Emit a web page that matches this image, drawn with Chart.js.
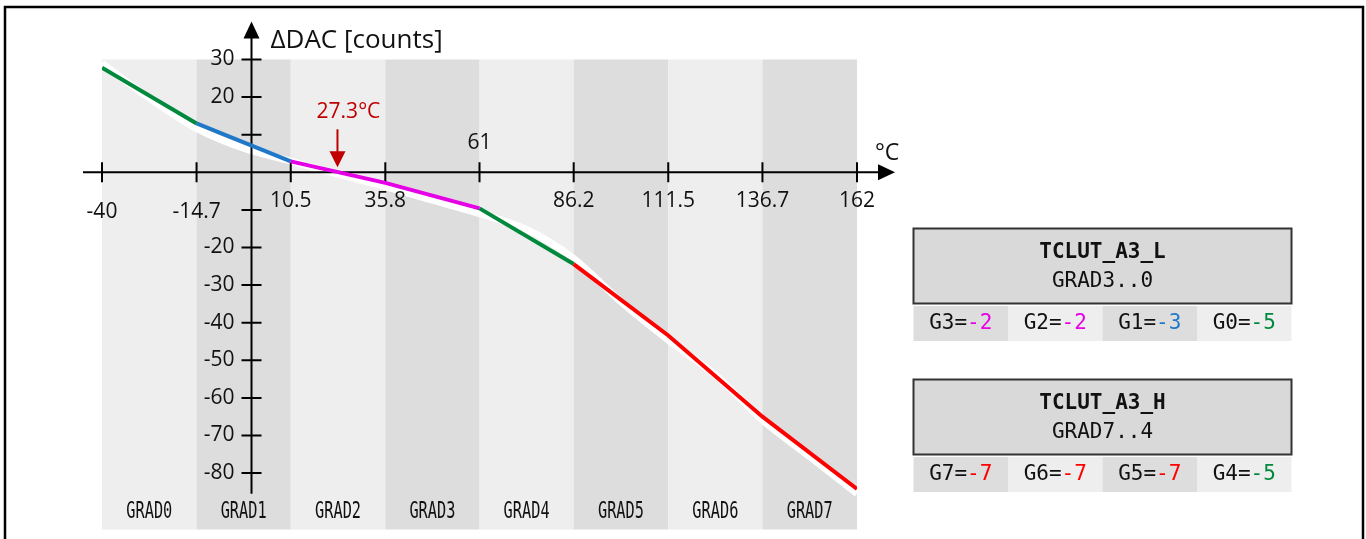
<!DOCTYPE html>
<html>
<head>
<meta charset="utf-8">
<script src="https://cdn.jsdelivr.net/npm/chart.js@4.4.1/dist/chart.umd.min.js"></script>
<style>
  html, body { margin: 0; padding: 0; background: #fff; overflow: hidden; }
  #wrap { position: relative; width: 1366px; height: 539px; }
</style>
</head>
<body>
<div id="wrap"><canvas id="c"></canvas></div>
<script>
const TEMPS  = [-40, -14.7, 10.5, 35.8, 61, 86.2, 111.5, 136.7, 162];   // bornes des GRADn (°C)
const DAC    = [27.8, 13.0, 2.9, -2.8, -9.6, -24.4, -43.4, -65.0, -84.2]; // ΔDAC aux bornes
const GRAD_NAMES = ['GRAD0', 'GRAD1', 'GRAD2', 'GRAD3', 'GRAD4', 'GRAD5', 'GRAD6', 'GRAD7'];
const GRADS      = [-5, -3, -2, -2, -5, -7, -7, -7];
const GRAD_COLORS = ['#00893d', '#1f78c8', '#e600e6', '#e600e6', '#00893d', '#ff0000', '#ff0000', '#ff0000'];

// courbe "réelle" (trait blanc sous la courbe linéarisée)
const IDEAL_T = [-40, -27.3, -14.7, -2.1, 10.5, 23.1, 35.8, 48.4, 61, 73.6, 86.2, 98.8, 111.5, 124.1, 136.7, 149.3, 162];
const IDEAL   = [29.0, 19.7, 11.7, 6.4, 3.0, -0.5, -3.8, -7.4, -11.0, -15.2, -22.9, -34.4, -44.6, -53.9, -65.9, -75.6, -85.4];

const Y_TICKS  = [30, 20, 10, -10, -20, -30, -40, -50, -60, -70, -80];
const Y_LABELS = [30, 20, -20, -30, -40, -50, -60, -70, -80];
const X_LABELS = ['-40', '-14.7', '10.5', '35.8', '61', '86.2', '111.5', '136.7', '162'];

const CROSS_T = 23, CROSS_LABEL = '27.3°C';
const Y_TITLE = 'ΔDAC [counts]', X_UNIT = '°C';
const LUTS = [
  { name: 'TCLUT_A3_L', sub: 'GRAD3..0', idx: [3, 2, 1, 0] },
  { name: 'TCLUT_A3_H', sub: 'GRAD7..4', idx: [7, 6, 5, 4] },
];

const SANS = '"Open Sans", "Noto Sans", sans-serif';
const MONO = '"DejaVu Sans Mono", monospace';
const bandColor = i => i % 2 ? '#dddddd' : '#eeeeee';

function arrowHead(ctx, tx, ty, dir) {
  ctx.beginPath();
  if (dir === 'up') { ctx.moveTo(tx, ty); ctx.lineTo(tx - 8, ty + 17); ctx.lineTo(tx + 8, ty + 17); }
  else if (dir === 'down') { ctx.moveTo(tx, ty); ctx.lineTo(tx - 8, ty - 16); ctx.lineTo(tx + 8, ty - 16); }
  else { ctx.moveTo(tx, ty); ctx.lineTo(tx - 17, ty - 8); ctx.lineTo(tx - 17, ty + 8); }
  ctx.closePath();
  ctx.fill();
}

const sketch = {
  id: 'sketch',
  beforeDatasetsDraw(chart) {
    const { ctx, chartArea: a, scales: { x } } = chart;
    ctx.save();
    ctx.strokeStyle = '#000'; ctx.lineWidth = 2.5;
    ctx.strokeRect(5, 7, 1358, 600);
    for (let i = 0; i < GRADS.length; i++) {
      const x0 = x.getPixelForValue(TEMPS[i]), x1 = x.getPixelForValue(TEMPS[i + 1]);
      ctx.fillStyle = bandColor(i);
      ctx.fillRect(x0, a.top, x1 - x0, a.bottom - a.top);
    }
    ctx.restore();
  },
  beforeDatasetDraw(chart, args) {
    if (args.index !== 0) return;
    const { ctx, chartArea: a, scales: { x, y } } = chart;
    const ox = x.getPixelForValue(0), oy = y.getPixelForValue(0);
    ctx.save();
    ctx.strokeStyle = '#000'; ctx.fillStyle = '#000'; ctx.lineWidth = 2;
    // axes
    ctx.beginPath();
    ctx.moveTo(a.left - 19, oy); ctx.lineTo(a.right + 25, oy);
    ctx.moveTo(ox, y.getPixelForValue(-85.5)); ctx.lineTo(ox, a.top - 25);
    ctx.stroke();
    arrowHead(ctx, a.right + 38, oy, 'right');
    arrowHead(ctx, ox, a.top - 38, 'up');
    // graduations
    ctx.beginPath();
    TEMPS.forEach(t => { const px = x.getPixelForValue(t); ctx.moveTo(px, oy - 10); ctx.lineTo(px, oy + 10); });
    Y_TICKS.forEach(v => { const py = y.getPixelForValue(v); ctx.moveTo(ox - 10, py); ctx.lineTo(ox + 10, py); });
    ctx.stroke();
    // libellés
    ctx.fillStyle = '#111';
    ctx.font = '21px ' + SANS;
    ctx.textAlign = 'center'; ctx.textBaseline = 'middle';
    TEMPS.forEach((t, i) => {
      const dy = t === 61 ? -29 : t < 0 ? 40 : 29;
      ctx.fillText(X_LABELS[i], x.getPixelForValue(t), oy + dy);
    });
    ctx.textAlign = 'right';
    Y_LABELS.forEach(v => ctx.fillText(String(v), ox - 17, y.getPixelForValue(v)));
    ctx.textAlign = 'left';
    ctx.font = '26px ' + SANS;
    ctx.fillText(Y_TITLE, ox + 19, a.top - 19);
    ctx.font = '23px ' + SANS;
    ctx.fillText(X_UNIT, a.right + 18, oy - 19);
    ctx.restore();
  },
  afterDraw(chart) {
    const { ctx, chartArea: a, scales: { x, y } } = chart;
    ctx.save();
    // annotation 27.3 °C
    const cx = x.getPixelForValue(CROSS_T), cy = y.getPixelForValue(0) - 5;
    ctx.strokeStyle = '#c00000'; ctx.fillStyle = '#c00000'; ctx.lineWidth = 2;
    ctx.beginPath(); ctx.moveTo(cx, cy - 38); ctx.lineTo(cx, cy - 12); ctx.stroke();
    arrowHead(ctx, cx, cy, 'down');
    ctx.font = '21px ' + SANS; ctx.textAlign = 'center'; ctx.textBaseline = 'middle';
    ctx.fillText(CROSS_LABEL, cx + 11, cy - 55);
    // noms des GRADn
    ctx.fillStyle = '#111';
    ctx.font = '23px ' + MONO;
    for (let i = 0; i < GRADS.length; i++) {
      const mid = (x.getPixelForValue(TEMPS[i]) + x.getPixelForValue(TEMPS[i + 1])) / 2;
      ctx.fillText(GRAD_NAMES[i], mid, a.bottom - 17, 46);
    }
    // registres TCLUT
    const bx = 913.5, bw = 378, cw = bw / 4;
    LUTS.forEach((lut, k) => {
      const top = 228.5 + k * 151;
      ctx.fillStyle = '#d9d9d9';
      ctx.fillRect(bx, top, bw, 75);
      ctx.strokeStyle = '#333'; ctx.lineWidth = 2;
      ctx.strokeRect(bx, top, bw, 75);
      ctx.fillStyle = '#111';
      ctx.font = 'bold 21px ' + MONO;
      ctx.fillText(lut.name, bx + bw / 2, top + 24);
      ctx.font = '21px ' + MONO;
      ctx.fillText(lut.sub, bx + bw / 2, top + 53);
      lut.idx.forEach((g, j) => {
        const x0 = bx + j * cw, ty = top + 77.5;
        ctx.fillStyle = bandColor(g);
        ctx.fillRect(x0, ty, cw, 35);
        const head = 'G' + g + '=', val = String(GRADS[g]);
        const w1 = ctx.measureText(head).width, w2 = ctx.measureText(val).width;
        const sx = x0 + cw / 2 - (w1 + w2) / 2;
        ctx.textAlign = 'left';
        ctx.fillStyle = '#111'; ctx.fillText(head, sx, ty + 17.5);
        ctx.fillStyle = GRAD_COLORS[g]; ctx.fillText(val, sx + w1, ty + 17.5);
        ctx.textAlign = 'center';
      });
    });
    ctx.restore();
  },
};

new Chart(document.getElementById('c'), {
  type: 'line',
  data: {
    datasets: [
      {
        data: TEMPS.map((t, i) => ({ x: t, y: DAC[i] })),
        borderColor: GRAD_COLORS[0],
        segment: { borderColor: c => GRAD_COLORS[c.p0DataIndex] },
        borderWidth: 4, pointRadius: 0, tension: 0,
      },
      {
        data: IDEAL_T.map((t, i) => ({ x: t, y: IDEAL[i] })),
        borderColor: '#ffffff', borderWidth: 7, pointRadius: 0,
        cubicInterpolationMode: 'monotone',
      },
    ],
  },
  options: {
    responsive: true,
    maintainAspectRatio: false,
    animation: false,
    layout: { padding: { left: 102, right: 509, top: 59.5, bottom: 9.5 } },
    plugins: { legend: { display: false }, tooltip: { enabled: false } },
    scales: {
      x: { type: 'linear', min: -40, max: 162, display: false },
      y: { min: -95, max: 30, display: false },
    },
  },
  plugins: [sketch],
});
</script>
</body>
</html>
